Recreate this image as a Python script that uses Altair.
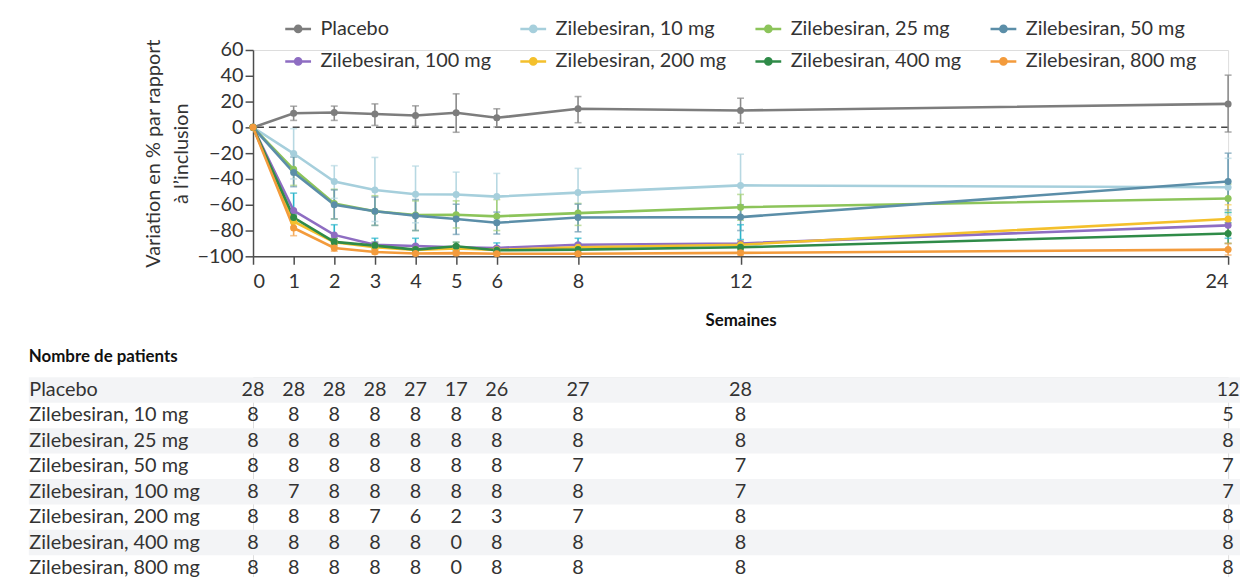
import altair as alt
import pandas as pd

# ---------------- data ----------------
weeks = [0, 1, 2, 3, 4, 5, 6, 8, 12, 24]
series_names = ["Placebo", "Zilebesiran, 10 mg", "Zilebesiran, 25 mg", "Zilebesiran, 50 mg",
                "Zilebesiran, 100 mg", "Zilebesiran, 200 mg", "Zilebesiran, 400 mg", "Zilebesiran, 800 mg"]
colors = ["#7d7d7d", "#a6cfdc", "#8cc45a", "#5b8ea8", "#8e6dc2", "#f4c02c", "#2f8b48", "#f39b3c"]
err_colors = ["#8a8a8a", "#b7d8e2", "#a6d27c", "#6f9cb3", "#2bb5cb", "#f6cf5a", "#4a9b60", "#f5ab5c"]

placebo = [0, 11, 11.5, 10.3, 9.2, 11.3, 7.4, 14.4, 13.1, 18.2]
placebo_lo = [0, 5.4, 5.4, 1.5, 0.8, -3.8, 0.3, 3.6, 3.3, -3.6]
placebo_hi = [0, 16.4, 16.5, 18.2, 16.7, 26, 14.4, 23.9, 22.6, 40.5]

mg10 = [0, -20.3, -42, -48.5, -51.9, -52, -53.7, -50.6, -45, -46.5]
mg10_lo = [0, -40, -55, -73, -74, -69, -72, -69, -69, -68]
mg10_hi = [0, -1, -29.7, -23.3, -30, -34.7, -35.7, -31.8, -20.8, -24]

mg25 = [0, -32.5, -59, -65, -68, -67.8, -69, -66.5, -61.9, -55.2]
mg25_lo = [0, -45, -71, -76, -80, -78, -80, -76, -72, -66]
mg25_hi = [0, -20, -48, -53, -57, -57, -56, -59, -52, -44]

mg50 = [0, -35, -60, -65, -68.6, -71, -74, -69.9, -69.6, -42]
mg50_lo = [0, -46, -71, -76, -80, -83, -82.7, -81, -80, -64]
mg50_hi = [0, -23, -48.5, -54, -56, -59.6, -65.7, -59.6, -60, -20]

mg100 = [0, -64.5, -83.4, -91, -92, -93, -93.5, -91, -90, -76]
mg100_lo = [0, -68, -86, -91, -91, -96, -95, -90, -87, -86]
mg100_hi = [0, -51, -75.5, -86, -86, -92, -89.6, -86, -75.5, -66]

mg200 = [0, -73, -89, -93, -95, -94, -95, -93, -91, -71]
mg200_lo = [0, -77, -92, -95, -97, -97, -97, -95, -94, -82]
mg200_hi = [0, -69, -86, -91, -93, -91, -93, -91, -88, -60]

mg400 = [0, -69.9, -88.8, -91.7, -94.8, -92.2, -95.3, -94.8, -93, -82.3]
mg400_lo = [0, -73, -91, -94, -97, -95, -97, -97, -95, -90]
mg400_hi = [0, -67, -86, -89, -92, -89, -93, -92, -91, -74]

mg800 = [0, -78, -93.5, -96.6, -97.8, -97.5, -98, -98, -97.3, -94.8]
mg800_lo = [0, -84, -96, -98, -99, -99, -99, -99, -99, -99]
mg800_hi = [0, -72, -91, -95, -96, -96, -97, -97, -96, -90]

n_placebo = [28, 28, 28, 28, 27, 17, 26, 27, 28, 12]
n_10 = [8, 8, 8, 8, 8, 8, 8, 8, 8, 5]
n_25 = [8, 8, 8, 8, 8, 8, 8, 8, 8, 8]
n_50 = [8, 8, 8, 8, 8, 8, 8, 7, 7, 7]
n_100 = [8, 7, 8, 8, 8, 8, 8, 8, 7, 7]
n_200 = [8, 8, 8, 7, 6, 2, 3, 7, 8, 8]
n_400 = [8, 8, 8, 8, 8, 0, 8, 8, 8, 8]
n_800 = [8, 8, 8, 8, 8, 0, 8, 8, 8, 8]

y_title = ["Variation en % par rapport", "à l’inclusion"]
x_title = "Semaines"
table_title = "Nombre de patients"
y_ticks = [-100, -80, -60, -40, -20, 0, 20, 40, 60]

# ---------------- tables ----------------
means = [placebo, mg10, mg25, mg50, mg100, mg200, mg400, mg800]
los = [placebo_lo, mg10_lo, mg25_lo, mg50_lo, mg100_lo, mg200_lo, mg400_lo, mg800_lo]
his = [placebo_hi, mg10_hi, mg25_hi, mg50_hi, mg100_hi, mg200_hi, mg400_hi, mg800_hi]
counts = [n_placebo, n_10, n_25, n_50, n_100, n_200, n_400, n_800]

rows = []
for i, name in enumerate(series_names):
    for j, w in enumerate(weeks):
        rows.append({"series": name, "order": i, "week": w, "value": means[i][j],
                     "lo": los[i][j], "hi": his[i][j], "ecol": err_colors[i],
                     "n": counts[i][j]})
df = pd.DataFrame(rows)
df_rows = pd.DataFrame({"series": series_names, "idx": list(range(len(series_names)))})
df_zero = pd.DataFrame({"y": [0]})

FONT = "Lato"
TXT = "#333333"
AX = "#4d4d4d"
W, H = 983, 208

xs = alt.Scale(domain=[0, 24], nice=False, zero=False)
ys = alt.Scale(domain=[-100, 60], nice=False, zero=False)
cs = alt.Scale(domain=series_names, range=colors)

sym_path = "M-1,0L1,0M-0.24,0A0.24,0.24,0,1,1,0.24,0A0.24,0.24,0,1,1,-0.24,0Z"
leg = alt.Legend(title=None, orient="none", legendX=31, legendY=-36, columns=4,
                 direction="horizontal", symbolType=sym_path, symbolSize=676,
                 symbolStrokeWidth=2.5, labelFont=FONT, labelFontSize=20,
                 labelColor=TXT, columnPadding=24, rowPadding=8, labelOffset=8,
                 padding=0, labelLimit=400)

x_axis = alt.Axis(values=weeks, title=x_title, labelFont=FONT, labelFontSize=20,
                  labelColor=TXT, titleFont=FONT, titleFontSize=17,
                  titleFontWeight="bold", titleColor="#111111", titlePadding=22,
                  tickSize=8, tickColor=AX, tickWidth=1.5, domainColor=AX,
                  domainWidth=1.5, grid=False, labelPadding=7, labelOverlap=False)
y_axis = alt.Axis(values=y_ticks, title=y_title, labelFont=FONT, labelFontSize=20,
                  labelColor=TXT, titleFont=FONT, titleFontSize=20,
                  titleFontWeight="normal", titleColor=TXT, titlePadding=6,
                  titleLineHeight=28, tickSize=8, tickColor=AX, tickWidth=1.5,
                  domainColor=AX, domainWidth=1.5, grid=False, labelPadding=2,
                  labelOverlap=False, tickCount=9)

X = alt.X("week:Q", scale=xs, axis=x_axis)

base = alt.Chart(df)

zero_rule = alt.Chart(df_zero).mark_rule(strokeDash=[7, 5], color="#444444", strokeWidth=1.5).encode(
    y=alt.Y("y:Q", scale=ys, axis=y_axis))

err_base = base.transform_filter("datum.week > 0")
err_rule = err_base.mark_rule(strokeWidth=1.6).encode(
    x=X, y=alt.Y("lo:Q", scale=ys, axis=y_axis), y2="hi:Q",
    color=alt.Color("ecol:N", scale=None))
err_cap_lo = err_base.mark_tick(orient="horizontal", size=7, thickness=1.6).encode(
    x=X, y=alt.Y("lo:Q", scale=ys, axis=y_axis), color=alt.Color("ecol:N", scale=None))
err_cap_hi = err_base.mark_tick(orient="horizontal", size=7, thickness=1.6).encode(
    x=X, y=alt.Y("hi:Q", scale=ys, axis=y_axis), color=alt.Color("ecol:N", scale=None))

lines = base.mark_line(strokeWidth=2.6).encode(
    x=X,
    y=alt.Y("value:Q", scale=ys, axis=y_axis),
    stroke=alt.Stroke("series:N", scale=cs, legend=leg),
    order="week:Q")
points = base.mark_circle(size=50, opacity=1).encode(
    x=X,
    y=alt.Y("value:Q", scale=ys, axis=y_axis),
    fill=alt.Fill("series:N", scale=cs, legend=leg))

plot = alt.layer(zero_rule, err_rule, err_cap_lo, err_cap_hi, lines, points).properties(
    width=W, height=H)

# ---------------- table ----------------
row_y = alt.Y("series:N", sort=series_names,
              scale=alt.Scale(domain=series_names, paddingInner=0, paddingOuter=0),
              axis=alt.Axis(title=None, labelAlign="left", labelPadding=226, ticks=False,
                            tickSize=0, domain=False, labelFont=FONT, labelFontSize=20,
                            labelColor=TXT, labelLimit=400))

shade = alt.Chart(df_rows).transform_filter("datum.idx % 2 == 0").mark_rect(color="#f3f4f6").encode(
    y=row_y, x=alt.value(-226), x2=alt.value(W + 12))
nums = alt.Chart(df).mark_text(font=FONT, fontSize=20, color=TXT).encode(
    x=alt.X("week:Q", scale=xs, axis=None), y=row_y, text="n:Q")

table = alt.layer(shade, nums).properties(
    width=W, height=205,
    title=alt.TitleParams(table_title, anchor="start", frame="bounds", font=FONT,
                          fontSize=17, fontWeight="bold", color="#111111", offset=11))

chart = alt.vconcat(plot, table, spacing=18).properties(
    padding={"left": 20, "top": 4, "right": 0, "bottom": 0}
).configure_view(stroke="transparent", strokeWidth=0).configure(font=FONT)

chart.save("out.html", embed_options={"renderer": "svg", "actions": False})
